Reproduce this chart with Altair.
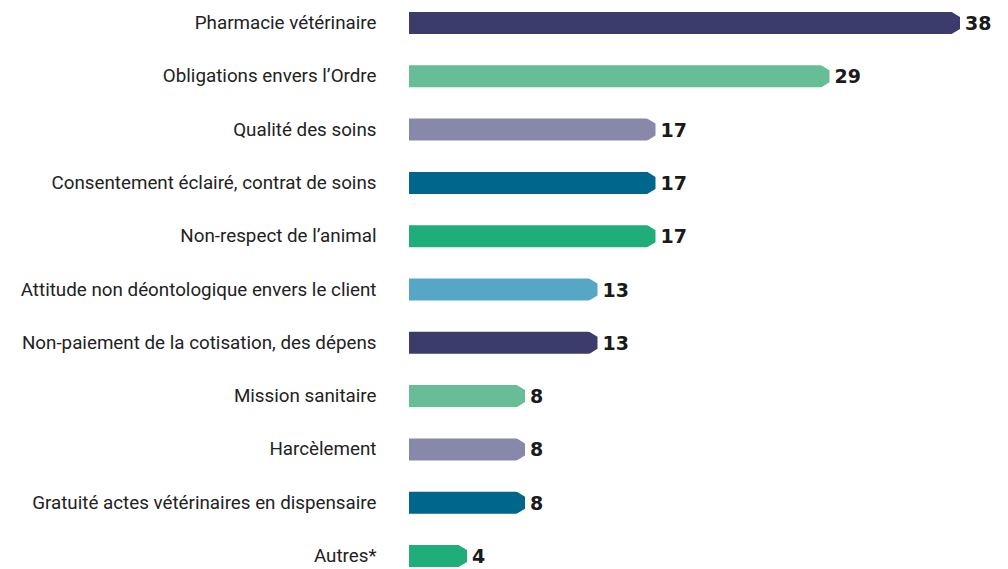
import altair as alt
import pandas as pd

categories = [
    "Pharmacie vétérinaire",
    "Obligations envers l’Ordre",
    "Qualité des soins",
    "Consentement éclairé, contrat de soins",
    "Non-respect de l’animal",
    "Attitude non déontologique envers le client",
    "Non-paiement de la cotisation, des dépens",
    "Mission sanitaire",
    "Harcèlement",
    "Gratuité actes vétérinaires en dispensaire",
    "Autres*",
]
values = [38, 29, 17, 17, 17, 13, 13, 8, 8, 8, 4]
colors = [
    "#3c3c6c", "#66bd96", "#8888aa", "#00668c", "#1fad7a",
    "#56a6c6", "#3c3c6c", "#66bd96", "#8888aa", "#00668c", "#1fad7a",
]

df = pd.DataFrame({"cat": categories, "val": values})

y = alt.Y("cat:N", sort=categories, title=None,
          scale=alt.Scale(paddingInner=0.587, paddingOuter=0.075),
          axis=alt.Axis(domain=False, ticks=False, labelPadding=33,
                        labelFont="Roboto", labelFontSize=18.8,
                        labelColor="#222222", labelLimit=500))
x = alt.X("val:Q", title=None, axis=None,
          scale=alt.Scale(domain=[0, 38], nice=False, zero=True))
color = alt.Color("cat:N", scale=alt.Scale(domain=categories, range=colors), legend=None)

base = alt.Chart(df)

bars = base.mark_bar(size=22).encode(y=y, x=x, color=color)

# white notches that chamfer the right-hand corners of each bar
notch_path = ("M -0.91 -1.1 L 0.15 -1.1 L 0.15 -0.545 L 0 -0.545 Z "
              "M -0.91 1.1 L 0.15 1.1 L 0.15 0.545 L 0 0.545 Z")
notches = base.mark_point(shape=notch_path, size=484, filled=True, opacity=1,
                          strokeWidth=0, color="white").encode(y=y, x=x)

labels = base.mark_text(align="left", baseline="middle", dx=5, dy=1,
                        font="DejaVu Sans", fontWeight="bold", fontSize=19,
                        color="#1a1a1a").encode(
    y=y, x=x, text=alt.Text("val:Q"))

chart = alt.layer(bars, notches, labels).properties(
    width=551, height=563,
    autosize=alt.AutoSizeParams(type="none"),
    padding={"left": 401, "top": 0, "right": 40, "bottom": 0},
).configure_view(stroke=None)

chart.save("out.html", embed_options={"renderer": "svg", "actions": False})
